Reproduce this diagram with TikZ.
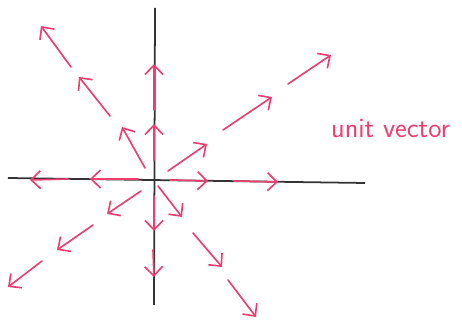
\documentclass[tikz,border=0pt]{standalone}
\usetikzlibrary{arrows.meta}
\definecolor{vecpink}{RGB}{236,62,112}
\begin{document}
\begin{tikzpicture}[x=0.03cm, y=-0.03cm,
            axis/.style={line width=1.5pt, black!80},
            vec/.style={line width=1.4pt, vecpink, line cap=round, -{Straight Barb[length=2.8mm, width=5.4mm, line width=1.4pt]}},
            label/.style={vecpink, font=\sffamily\fontsize{24}{26}\selectfont, inner sep=0pt}
        ]
            \useasboundingbox (0,0) rectangle (462,320);

            % Axes
            \coordinate (o) at (154,179);
            \coordinate (x-start) at (8,178);
            \coordinate (x-end) at (365,183);
            \coordinate (y-start) at (155,8);
            \coordinate (y-end) at (154,305);
            \draw[axis] (x-start) -- (x-end);
            \draw[axis] (y-start) -- (y-end);

            % Vectors: up and down
            \draw[vec] (154,160) -- (154,124);
            \draw[vec] (154,110) -- (154,64);
            \draw[vec] (154,196) -- (154,231);
            \draw[vec] (153,250) -- (154,277);

            % Vectors: right and left
            \draw[vec] (170,180) -- (208,181);
            \draw[vec] (234,181) -- (278,182);
            \draw[vec] (138,179) -- (90,179);
            \draw[vec] (68,179) -- (30,180);

            % Vectors: upper right
            \draw[vec] (168,171) -- (207,144);
            \draw[vec] (223,130) -- (272,97);
            \draw[vec] (288,84) -- (331,55);

            % Vectors: upper left
            \draw[vec] (145,168) -- (122,127);
            \draw[vec] (110,116) -- (79,77);
            \draw[vec] (71,67) -- (41,26);

            % Vectors: lower right
            \draw[vec] (158,186) -- (182,217);
            \draw[vec] (193,233) -- (222,267);
            \draw[vec] (228,280) -- (256,317);

            % Vectors: lower left
            \draw[vec] (141,191) -- (107,214);
            \draw[vec] (93,225) -- (57,250);
            \draw[vec] (42,261) -- (8,287);

            % Label
            \node[label, anchor=west] (unit-vector) at (331,129) {unit vector};
        \end{tikzpicture}
\end{document}
